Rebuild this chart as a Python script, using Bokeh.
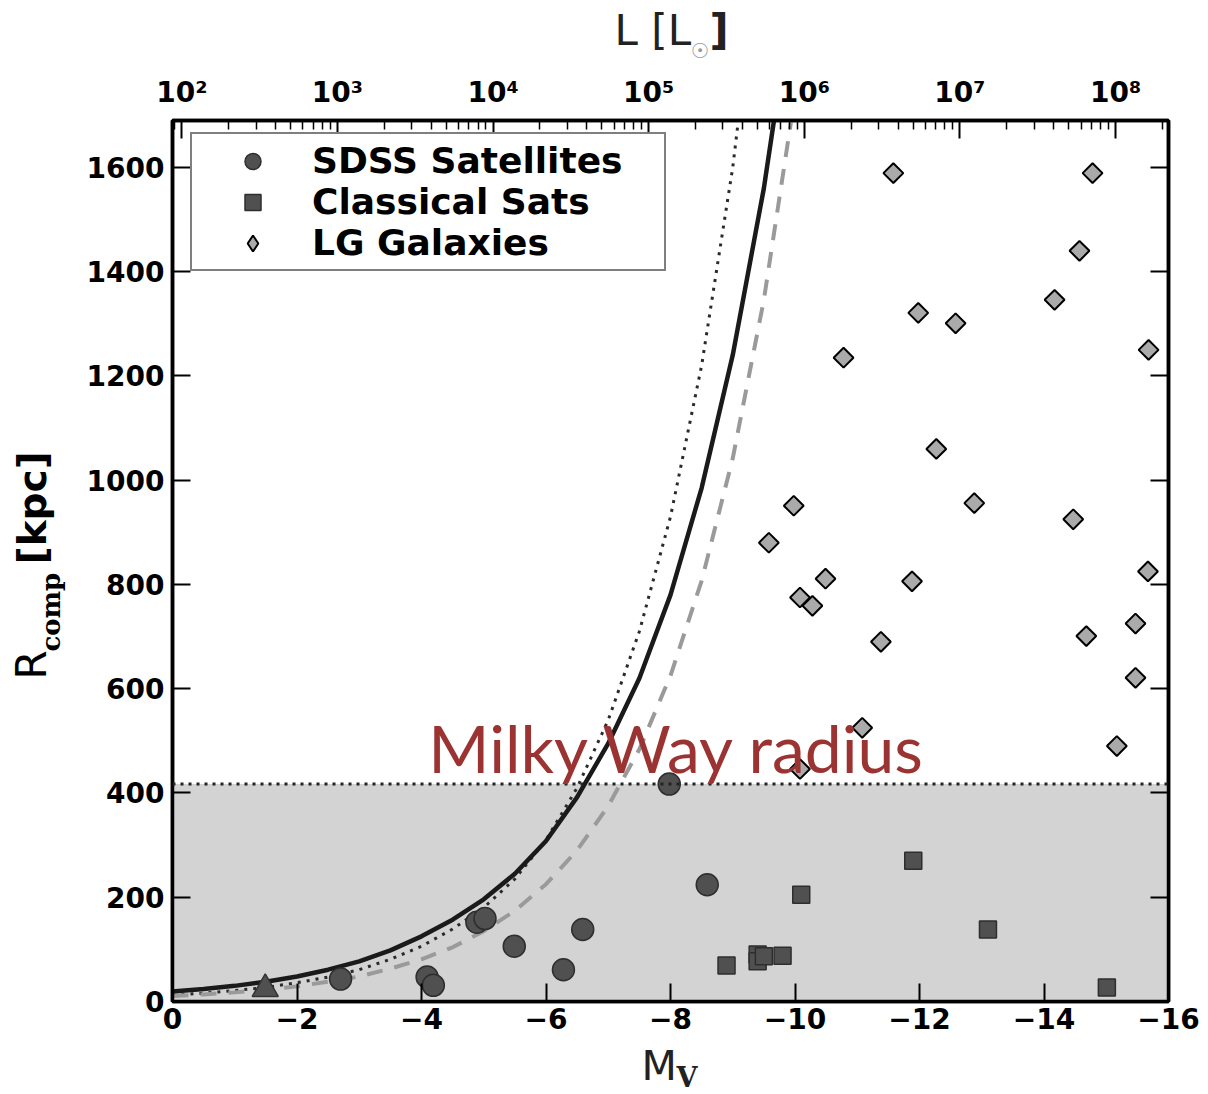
import numpy as np
from bokeh.plotting import figure
from bokeh.layouts import column, row
from bokeh.models import (Range1d, LogScale, LogAxis, LinearAxis, FixedTicker, Label,
                          Legend, LegendItem, BoxAnnotation, Span)
from bokeh.embed import file_html
from bokeh.resources import INLINE

# ---------------- data ----------------
sdss_mv = [-2.70, -4.09, -4.19, -4.89, -5.02, -5.49, -6.28, -6.59, -7.98, -8.59]
sdss_r = [43, 47, 31, 152, 159, 106, 61, 138, 417, 224]

classical_mv = [-8.90, -9.40, -9.40, -9.50, -9.80, -10.10, -11.90, -13.10, -15.01]
classical_r = [69, 90, 77, 87, 88, 205, 270, 138, 27]

lg_mv = [-11.58, -14.78, -14.57, -14.17, -11.98, -12.58, -10.78, -15.68, -12.27,
         -9.98, -12.88, -14.47, -9.58, -10.49, -11.88, -10.08, -10.28, -15.67,
         -15.47, -11.38, -14.68, -15.47, -11.08, -15.17, -10.08]
lg_r = [1589, 1589, 1440, 1346, 1321, 1301, 1235, 1250, 1060,
        951, 956, 925, 880, 811, 806, 775, 759, 825,
        725, 690, 701, 621, 525, 490, 446]

extra_mv = [-1.49]
extra_r = [24]

curve_mv = [0, -0.5, -1, -1.5, -2, -2.5, -3, -3.5, -4, -4.5, -5, -5.5, -6, -6.5,
            -7, -7.5, -8, -8.5, -9, -9.5, -10]
rcomp_solid = [19, 24, 30, 38, 48, 61, 77, 98, 125, 157, 196, 245, 308, 392,
               495, 620, 780, 985, 1240, 1560, 1960]
rcomp_dotted = [12, 16, 21, 27, 36, 47, 61, 81, 106, 139, 180, 235, 310, 410,
                540, 710, 930, 1220, 1600, 2100, 2760]
rcomp_dashed = [10.5, 13.5, 17.5, 22.5, 29, 38, 48, 63, 81, 104, 135, 174, 225, 290,
                375, 484, 625, 807, 1042, 1346, 1738]

mw_radius = 417

x_ticks = [0, -2, -4, -6, -8, -10, -12, -14, -16]
y_ticks = [0, 200, 400, 600, 800, 1000, 1200, 1400, 1600]
lum_exponents = [2, 3, 4, 5, 6, 7, 8]
sup = {2: "²", 3: "³", 4: "⁴", 5: "⁵", 6: "⁶", 7: "⁷", 8: "⁸"}

M_SUN = 4.85
mv_lo, mv_hi = 0, -16
r_lo, r_hi = 0, 1690

W, H = 1208, 1094
FRAME_L, FRAME_T, FRAME_B = 172, 120, 1001
TOP_H, BOT_H, LEFT_W = 64, 53, 70
MAIN_W, MAIN_H = W - LEFT_W, H - TOP_H - BOT_H
MID = 0.38  # labels are anchored at their middle: baseline sits 0.38 em below the anchor


def strip(w, h):
    f = figure(width=w, height=h, x_range=Range1d(0, w), y_range=Range1d(0, h),
               output_backend="svg", toolbar_location=None, title=None,
               x_axis_location=None, y_axis_location=None, min_border=0)
    f.xgrid.visible = False
    f.ygrid.visible = False
    f.outline_line_color = None
    f.background_fill_color = "white"
    f.border_fill_color = "white"
    return f


# ---------------- main figure ----------------
p = figure(width=MAIN_W, height=MAIN_H, x_range=Range1d(mv_lo, mv_hi), y_range=Range1d(r_lo, r_hi),
           output_backend="svg", toolbar_location=None, title=None,
           x_axis_location=None, y_axis_location=None,
           min_border_left=FRAME_L - LEFT_W, min_border_right=40,
           min_border_top=FRAME_T - TOP_H, min_border_bottom=(H - BOT_H) - FRAME_B)
p.xgrid.visible = False
p.ygrid.visible = False
p.outline_line_color = "black"
p.outline_line_width = 3.5
p.background_fill_color = "white"
p.border_fill_color = "white"

lum_lo = 10 ** ((M_SUN - mv_lo) / 2.5)
lum_hi = 10 ** ((M_SUN - mv_hi) / 2.5)
p.extra_x_ranges = {"lum": Range1d(lum_lo, lum_hi)}
p.extra_x_scales = {"lum": LogScale()}


def style_axis(ax):
    ax.axis_line_color = "black"
    ax.axis_line_width = 3.5
    ax.major_tick_in = 18
    ax.major_tick_out = 0
    ax.major_tick_line_width = 2
    ax.major_tick_line_color = "black"
    ax.minor_tick_in = 9
    ax.minor_tick_out = 0
    ax.minor_tick_line_width = 1.5
    ax.minor_tick_line_color = "black"
    ax.major_label_text_font = "DejaVu Sans"
    ax.major_label_text_font_style = "bold"
    ax.major_label_text_font_size = "28px"
    ax.major_label_text_color = "black"


xaxis = LinearAxis(ticker=FixedTicker(ticks=x_ticks),
                   major_label_overrides={t: (str(t).replace("-", "\u2212")) for t in x_ticks})
style_axis(xaxis)
xaxis.major_label_standoff = 6
p.add_layout(xaxis, "below")

yaxis = LinearAxis(ticker=FixedTicker(ticks=y_ticks))
style_axis(yaxis)
yaxis.major_label_standoff = 8
p.add_layout(yaxis, "left")

raxis = LinearAxis(ticker=FixedTicker(ticks=y_ticks))
style_axis(raxis)
raxis.major_label_text_font_size = "1px"
raxis.major_label_text_color = None
raxis.major_label_standoff = 0
p.add_layout(raxis, "right")

lum_major = [10 ** k for k in lum_exponents]
lum_minor = [m * 10 ** k for k in range(1, 9) for m in range(2, 10)]
taxis = LogAxis(x_range_name="lum",
                ticker=FixedTicker(ticks=lum_major, minor_ticks=lum_minor),
                major_label_overrides={10 ** k: "10" + sup[k] for k in lum_exponents})
style_axis(taxis)
taxis.major_label_standoff = 12
p.add_layout(taxis, "above")

# ---------------- shaded MW region ----------------
p.add_layout(BoxAnnotation(bottom=r_lo, top=mw_radius, fill_color="#d3d3d3", fill_alpha=1.0,
                           line_color=None, level="underlay"))
p.add_layout(Span(location=mw_radius, dimension="width", line_color="#222222",
                  line_width=3, line_dash="3 5"))

# ---------------- completeness curves ----------------
p.line(curve_mv, rcomp_dotted, line_color="#2a2a2a", line_width=3, line_dash="3 6")
p.line(curve_mv, rcomp_dashed, line_color="#9a9a9a", line_width=4, line_dash="16 12")
p.line(curve_mv, rcomp_solid, line_color="#1a1a1a", line_width=4.5)

# ---------------- points ----------------
r_extra = p.scatter(extra_mv, extra_r, marker="triangle", size=26,
                    fill_color="#505050", line_color="#333333", line_width=1.5)
r_sdss = p.scatter(sdss_mv, sdss_r, marker="circle", size=22,
                   fill_color="#505050", line_color="#2e2e2e", line_width=1.5)
r_class = p.scatter(classical_mv, classical_r, marker="square", size=17,
                    fill_color="#505050", line_color="#2e2e2e", line_width=1.5)
# diamond key for the legend, hidden underneath the rotated squares of the same points
r_lg_key = p.scatter(lg_mv, lg_r, marker="diamond", size=18,
                     fill_color="#aaaaaa", line_color="black", line_width=2)
r_lg = p.scatter(lg_mv, lg_r, marker="square", angle=np.pi / 4, size=14,
                 fill_color="#aaaaaa", line_color="black", line_width=2)

legend = Legend(items=[LegendItem(label="SDSS Satellites", renderers=[r_sdss]),
                       LegendItem(label="Classical Sats", renderers=[r_class]),
                       LegendItem(label="LG Galaxies", renderers=[r_lg_key])],
                location=(18, 730))
legend.label_text_font = "DejaVu Sans"
legend.label_text_font_style = "bold"
legend.label_text_font_size = "36px"
legend.label_text_color = "black"
legend.glyph_width = 109
legend.glyph_height = 40
legend.label_height = 40
legend.label_width = 346
legend.label_standoff = 5
legend.padding = 6
legend.spacing = 0
legend.margin = 0
legend.border_line_color = "black"
legend.border_line_width = 2
legend.background_fill_color = "white"
legend.background_fill_alpha = 1.0
p.add_layout(legend)

# "Milky Way radius": baseline at page y 772
mw_fs = 66
p.add_layout(Label(x=-4.11, y=(FRAME_B - (772 - MID * mw_fs)) / 0.5213, text="Milky Way radius",
                   text_font="Lato", text_font_size=f"{mw_fs}px", text_color="#9b3333",
                   text_baseline="alphabetic"))

# ---------------- top strip: L [L_sun] ----------------
top = strip(W, TOP_H)
top.add_layout(Label(x=614, y=TOP_H - (46 - MID * 42), text="L [L", text_font="DejaVu Sans",
                     text_font_size="42px", text_color="#222222", text_baseline="alphabetic"))
top.add_layout(Label(x=690, y=TOP_H - 50, text="\u2609", text_font="DejaVu Sans",
                     text_font_size="21px", text_color="#9a9a9a", text_baseline="alphabetic"))
top.add_layout(Label(x=709, y=TOP_H - (46 - MID * 42), text="]", text_font="DejaVu Sans",
                     text_font_style="bold", text_font_size="42px", text_color="#222222",
                     text_baseline="alphabetic"))

# ---------------- left strip: R_comp [kpc] ----------------
left = strip(LEFT_W, MAIN_H)
y_off = TOP_H + MAIN_H
left.add_layout(Label(x=47 - MID * 42, y=y_off - 684, text="R", text_font="DejaVu Sans",
                      angle=np.pi / 2, text_font_size="42px", text_color="black",
                      text_baseline="alphabetic"))
left.add_layout(Label(x=60 - MID * 26, y=y_off - 653, text="comp", text_font="DejaVu Serif",
                      text_font_style="bold", angle=np.pi / 2, text_font_size="26px",
                      text_color="black", text_baseline="alphabetic"))
left.add_layout(Label(x=47 - MID * 39, y=y_off - 556, text="[kpc]", text_font="DejaVu Sans",
                      text_font_style="bold", angle=np.pi / 2, text_font_size="39px",
                      text_color="black", text_baseline="alphabetic"))

# ---------------- bottom strip: M_V ----------------
bot = strip(W, BOT_H)
bot.add_layout(Label(x=641, y=H - (1081 - MID * 41), text="M", text_font="DejaVu Sans",
                     text_font_size="41px", text_color="#222222", text_baseline="alphabetic"))
bot.add_layout(Label(x=676, y=H - (1087 - MID * 27), text="V", text_font="DejaVu Serif",
                     text_font_style="bold", text_font_size="27px", text_color="#222222",
                     text_baseline="alphabetic"))

layout = column(top, row(left, p, spacing=0), bot, spacing=0)
open("out.html", "w").write(file_html(layout, INLINE))
